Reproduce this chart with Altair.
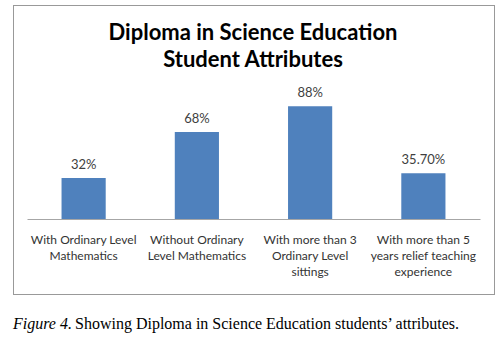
import altair as alt
import pandas as pd

categories = [
    "With Ordinary Level\nMathematics",
    "Without Ordinary\nLevel Mathematics",
    "With more than 3\nOrdinary Level\nsittings",
    "With more than 5\nyears relief teaching\nexperience",
]
values = [32, 68, 88, 35.7]
value_labels = ["32%", "68%", "88%", "35.70%"]
title_lines = ["Diploma in Science Education", "Student Attributes"]
caption_italic = "Figure 4."
caption_rest = "Showing Diploma in Science Education students\u2019 attributes."

df = pd.DataFrame({"cat": categories, "val": values, "lab": value_labels})

PLOT_W, PLOT_H = 453, 128
LEFT, TOP = 27, 91

x_enc = alt.X(
    "cat:N",
    sort=categories,
    scale=alt.Scale(paddingInner=0.61, paddingOuter=0.305),
    axis=alt.Axis(
        title=None,
        labelAngle=0,
        ticks=False,
        domainColor="#a6a6a6",
        labelColor="#333333",
        labelFont="Lato",
        labelFontSize=12,
        labelPadding=15,
        labelLineHeight=16,
        labelExpr="split(datum.label, '\\n')",
        labelBaseline="top",
    ),
)
y_enc = alt.Y("val:Q", scale=alt.Scale(domain=[0, 100]), axis=None)

bars = alt.Chart(df).mark_bar(color="#4f81bd").encode(x=x_enc, y=y_enc)
texts = alt.Chart(df).mark_text(
    baseline="alphabetic", dy=-9, font="Lato", fontSize=13, color="#404040"
).encode(x=alt.X("cat:N", sort=categories), y="val:Q", text="lab:N")

frame = alt.Chart(df).mark_rect(
    fill=None, stroke="#999999", strokeWidth=1
).encode(
    x=alt.value(13 - LEFT + 0.5), x2=alt.value(494 - LEFT + 0.5),
    y=alt.value(5 - TOP + 0.5), y2=alt.value(294 - TOP + 0.5),
)

title1 = alt.Chart(pd.DataFrame({"t": [title_lines[0]]})).mark_text(
    font="Lato", fontSize=22, fontWeight="bold", color="#000000", baseline="middle", align="center"
).encode(text="t:N", x=alt.value(253 - LEFT), y=alt.value(33 - TOP))
title2 = alt.Chart(pd.DataFrame({"t": [title_lines[1]]})).mark_text(
    font="Lato", fontSize=22, fontWeight="bold", color="#000000", baseline="middle", align="center"
).encode(text="t:N", x=alt.value(253 - LEFT), y=alt.value(60 - TOP))

cap1 = alt.Chart(pd.DataFrame({"t": [caption_italic]})).mark_text(
    font="Liberation Serif", fontSize=16, fontStyle="italic", color="#000000", baseline="alphabetic", align="left"
).encode(text="t:N", x=alt.value(13 - LEFT), y=alt.value(329 - TOP))
cap2 = alt.Chart(pd.DataFrame({"t": [caption_rest]})).mark_text(
    font="Liberation Serif", fontSize=16, color="#000000", baseline="alphabetic", align="left"
).encode(text="t:N", x=alt.value(75 - LEFT), y=alt.value(329 - TOP))

chart = alt.layer(frame, bars, texts, title1, title2, cap1, cap2).properties(
    width=PLOT_W, height=PLOT_H,
    autosize=alt.AutoSizeParams(type="none"),
    padding={"left": LEFT, "top": TOP, "right": 504 - LEFT - PLOT_W, "bottom": 342 - TOP - PLOT_H},
    background="#ffffff",
).configure_view(stroke=None)

chart.save("out.html", embed_options={"renderer": "svg", "actions": False})
